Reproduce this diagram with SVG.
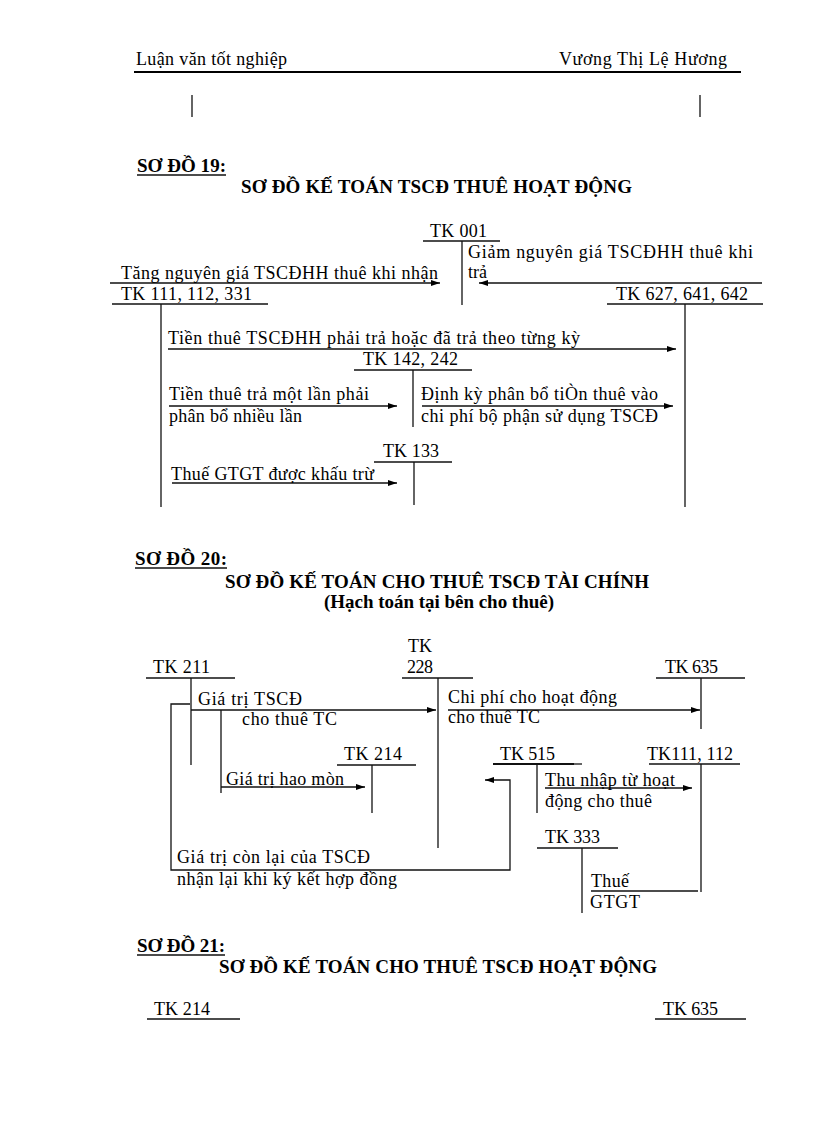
<svg xmlns="http://www.w3.org/2000/svg" width="816" height="1123" viewBox="0 0 816 1123">
<style>
text{font-family:"Liberation Serif","Times New Roman",serif;font-size:18px;fill:#000}
.b{font-weight:bold;font-size:19px}
.ln{stroke:#111;stroke-width:1.3;fill:none}
.hd{stroke:#000;stroke-width:2;fill:none}
.ar{stroke:#111;stroke-width:1.3;fill:none;marker-end:url(#ah)}
</style>
<defs>
<marker id="ah" viewBox="0 0 9 6" refX="9" refY="3" markerWidth="9" markerHeight="6" markerUnits="userSpaceOnUse" orient="auto"><path d="M0,0 L9,3 L0,6 z" fill="#000"/></marker>
</defs>
<rect width="816" height="1123" fill="#fff"/>

<g id="header">
<text x="136" y="65" textLength="151" lengthAdjust="spacing">Luận văn tốt nghiệp</text>
<text x="559" y="65" textLength="168" lengthAdjust="spacing">Vương Thị Lệ Hương</text>
<line class="hd" x1="134" y1="72" x2="741" y2="72"/>
<line class="ln" x1="192" y1="95" x2="192" y2="117"/>
<line class="ln" x1="700" y1="95" x2="700" y2="117"/>
</g>

<!-- SO DO 19 -->
<g id="title19">
<text class="b" x="137" y="172" textLength="89" lengthAdjust="spacing">SƠ ĐỒ 19:</text>
<line class="ln" x1="137" y1="175" x2="226" y2="175"/>
<text class="b" x="241" y="193" textLength="391" lengthAdjust="spacing">SƠ ĐỒ KẾ TOÁN TSCĐ THUÊ HOẠT ĐỘNG</text>
</g>
<g id="tk001">
<text x="430" y="237" textLength="57" lengthAdjust="spacing">TK 001</text>
<line class="ln" x1="423" y1="241" x2="500" y2="241"/>
<line class="ln" x1="462" y1="241" x2="462" y2="305"/>
</g>
<g id="tk111_19">
<text x="121" y="300" textLength="131" lengthAdjust="spacing">TK 111, 112, 331</text>
<line class="ln" x1="112" y1="304" x2="268" y2="304"/>
<line class="ln" x1="161" y1="304" x2="161" y2="507"/>
</g>
<g id="tk627">
<text x="616" y="300" textLength="132" lengthAdjust="spacing">TK 627, 641, 642</text>
<line class="ln" x1="607" y1="304" x2="763" y2="304"/>
<line class="ln" x1="685" y1="304" x2="685" y2="507"/>
</g>
<g id="tk142">
<text x="363" y="365" textLength="95" lengthAdjust="spacing">TK 142, 242</text>
<line class="ln" x1="354" y1="370" x2="472" y2="370"/>
<line class="ln" x1="413" y1="370" x2="413" y2="427"/>
</g>
<g id="tk133">
<text x="383" y="457" textLength="56" lengthAdjust="spacing">TK 133</text>
<line class="ln" x1="374" y1="462" x2="452" y2="462"/>
<line class="ln" x1="414" y1="462" x2="414" y2="505"/>
</g>
<g id="connectors19">
<line class="ar" x1="110" y1="283" x2="440" y2="283"/>
<text x="121" y="279" textLength="317" lengthAdjust="spacing">Tăng nguyên giá  TSCĐHH thuê khi nhận</text>
<line class="ar" x1="762" y1="283" x2="479" y2="283"/>
<text x="468" y="258" textLength="285" lengthAdjust="spacing">Giảm nguyên giá  TSCĐHH thuê khi</text>
<text x="468" y="278">trả</text>
<line class="ar" x1="168" y1="349" x2="676" y2="349"/>
<text x="168" y="344" textLength="412" lengthAdjust="spacing">Tiền thuê TSCĐHH phải trả hoặc đã trả theo từng kỳ</text>
<line class="ar" x1="169" y1="406" x2="397" y2="406"/>
<text x="169" y="400" textLength="200" lengthAdjust="spacing">Tiền thuê trả một lần phải</text>
<text x="169" y="422" textLength="133" lengthAdjust="spacing">phân bổ nhiều  lần</text>
<line class="ar" x1="422" y1="406" x2="673" y2="406"/>
<text x="421" y="400" textLength="237" lengthAdjust="spacing">Định kỳ phân bổ tiÒn thuê vào</text>
<text x="421" y="422" textLength="237" lengthAdjust="spacing">chi phí bộ phận sử dụng TSCĐ</text>
<line class="ar" x1="172" y1="483" x2="397" y2="483"/>
<text x="171" y="480" textLength="203" lengthAdjust="spacing">Thuế GTGT được khấu trừ</text>
</g>

<!-- SO DO 20 -->
<g id="title20">
<text class="b" x="135" y="565" textLength="92" lengthAdjust="spacing">SƠ ĐỒ 20:</text>
<line class="ln" x1="135" y1="568" x2="227" y2="568"/>
<text class="b" x="225" y="588" textLength="424" lengthAdjust="spacing">SƠ ĐỒ KẾ TOÁN CHO THUÊ TSCĐ TÀI CHÍNH</text>
<text class="b" x="324" y="608" textLength="230" lengthAdjust="spacing">(Hạch toán tại bên cho thuê)</text>
</g>
<g id="tk211">
<text x="153" y="673" textLength="57" lengthAdjust="spacing">TK 211</text>
<line class="ln" x1="146" y1="678" x2="235" y2="678"/>
<line class="ln" x1="191" y1="678" x2="191" y2="765"/>
</g>
<g id="tk228">
<text x="408" y="652" textLength="24" lengthAdjust="spacing">TK</text>
<text x="407" y="673" textLength="26" lengthAdjust="spacing">228</text>
<line class="ln" x1="402" y1="678" x2="473" y2="678"/>
<line class="ln" x1="438" y1="678" x2="438" y2="848"/>
</g>
<g id="tk635_20">
<text x="665" y="673" textLength="53" lengthAdjust="spacing">TK 635</text>
<line class="ln" x1="656" y1="678" x2="745" y2="678"/>
<line class="ln" x1="701" y1="678" x2="701" y2="729"/>
</g>
<g id="tk214_20">
<text x="344" y="760" textLength="58" lengthAdjust="spacing">TK 214</text>
<line class="ln" x1="337" y1="765" x2="416" y2="765"/>
<line class="ln" x1="372" y1="765" x2="372" y2="813"/>
</g>
<g id="tk515">
<text x="500" y="760" textLength="55" lengthAdjust="spacing">TK 515</text>
<line class="ln" x1="493" y1="764" x2="574" y2="764" style="stroke-width:2"/>
<line class="ln" x1="574" y1="764" x2="582" y2="764"/>
<line class="ln" x1="537" y1="764" x2="537" y2="813"/>
</g>
<g id="tk111_20">
<text x="647" y="760" textLength="86" lengthAdjust="spacing">TK111, 112</text>
<line class="ln" x1="649" y1="764" x2="740" y2="764"/>
<line class="ln" x1="701" y1="764" x2="701" y2="892"/>
</g>
<g id="tk333">
<text x="545" y="843" textLength="55" lengthAdjust="spacing">TK 333</text>
<line class="ln" x1="537" y1="848" x2="618" y2="848"/>
<line class="ln" x1="582" y1="848" x2="582" y2="913"/>
</g>
<g id="connectors20">
<line class="ar" x1="191" y1="710" x2="436" y2="710"/>
<text x="198" y="705" textLength="104" lengthAdjust="spacing">Giá trị TSCĐ</text>
<text x="242" y="725" textLength="95" lengthAdjust="spacing">cho thuê TC</text>
<line class="ln" x1="221" y1="710" x2="221" y2="793"/>
<line class="ar" x1="221" y1="787" x2="365" y2="787"/>
<text x="226" y="785" textLength="118" lengthAdjust="spacing">Giá trị hao mòn</text>
<polyline class="ar" points="190,704 171,704 171,870 510,870 510,780 485,780"/>
<text x="177" y="863" textLength="193" lengthAdjust="spacing">Giá trị còn lại  của TSCĐ</text>
<text x="177" y="885" textLength="220" lengthAdjust="spacing">nhận lại  khi ký kết hợp đồng</text>
<line class="ar" x1="448" y1="710" x2="700" y2="710"/>
<text x="448" y="703" textLength="169" lengthAdjust="spacing">Chi phí cho hoạt động</text>
<text x="448" y="723" textLength="92" lengthAdjust="spacing">cho thuê TC</text>
<line class="ar" x1="545" y1="788" x2="692" y2="788"/>
<text x="545" y="786" textLength="130" lengthAdjust="spacing">Thu nhập từ hoạt</text>
<text x="545" y="807" textLength="107" lengthAdjust="spacing">động cho thuê</text>
<line class="ln" x1="591" y1="891" x2="698" y2="891"/>
<text x="591" y="887" textLength="38" lengthAdjust="spacing">Thuế</text>
<text x="590" y="908" textLength="50" lengthAdjust="spacing">GTGT</text>
</g>

<!-- SO DO 21 -->
<g id="title21">
<text class="b" x="137" y="952" textLength="88" lengthAdjust="spacing">SƠ ĐỒ 21:</text>
<line class="ln" x1="137" y1="955" x2="225" y2="955"/>
<text class="b" x="219" y="973" textLength="438" lengthAdjust="spacing">SƠ ĐỒ KẾ TOÁN CHO THUÊ TSCĐ HOẠT ĐỘNG</text>
</g>
<g id="tk214_21">
<text x="154" y="1015" textLength="56" lengthAdjust="spacing">TK 214</text>
<line class="ln" x1="147" y1="1019" x2="240" y2="1019"/>
</g>
<g id="tk635_21">
<text x="663" y="1015" textLength="55" lengthAdjust="spacing">TK 635</text>
<line class="ln" x1="655" y1="1019" x2="746" y2="1019"/>
</g>
</svg>
